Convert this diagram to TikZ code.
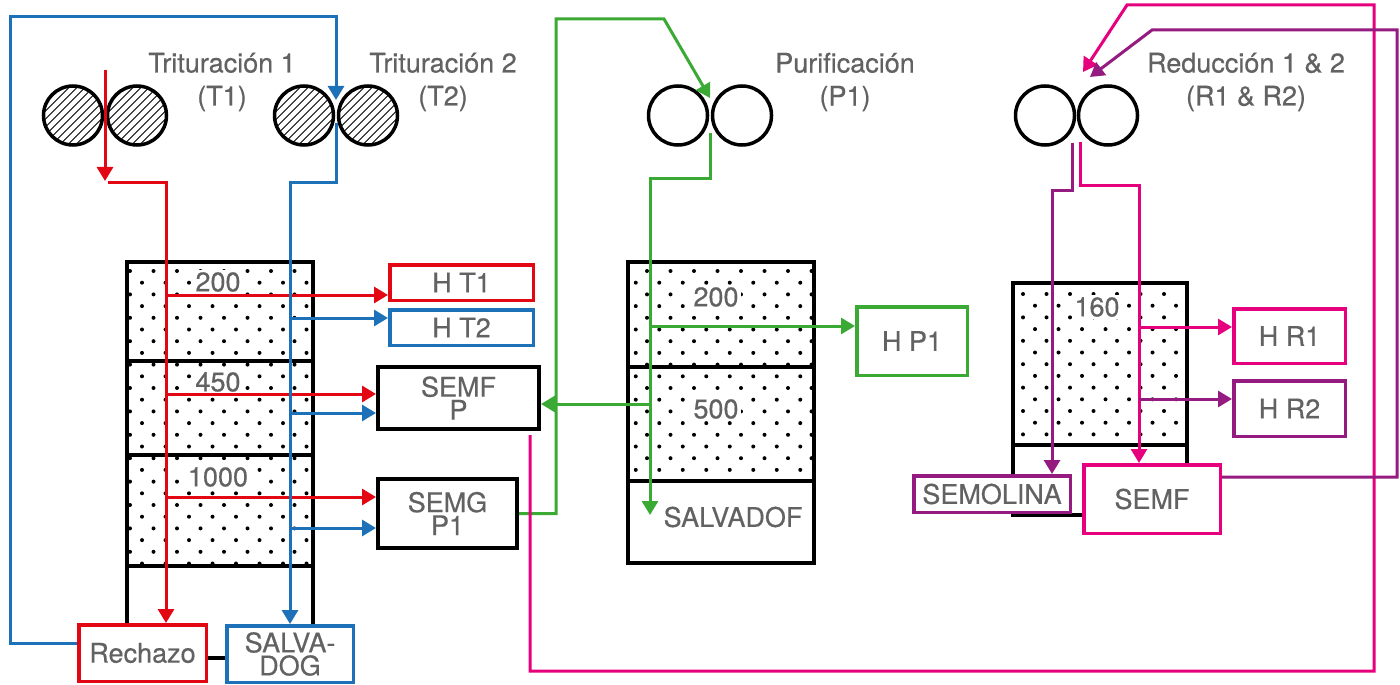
\documentclass[tikz,border=0pt]{standalone}
\usepackage{fontspec}
\setmainfont{TeX Gyre Heros}[FakeBold=0.5]
\usetikzlibrary{arrows.meta}
\definecolor{cred}{HTML}{E30613}
\definecolor{cblue}{HTML}{1D71B8}
\definecolor{cgreen}{HTML}{3AAA35}
\definecolor{cpink}{HTML}{E6007E}
\definecolor{cpurple}{HTML}{951B81}
\definecolor{ctext}{HTML}{626262}
\newcommand\mydots[7]{%
  \begin{scope}
  \clip (#1,#2) rectangle (#3,#4);
  \foreach \j in {0,...,30}{%
    \pgfmathsetmacro\yy{#7+11.7*\j}%
    \pgfmathsetmacro\xs{ifthenelse(mod(\j,2)==0,#5,#6)}%
    \foreach \k in {-1,...,9}{\fill[black] (\xs+23.5*\k,\yy) circle[radius=2];}}
  \end{scope}}
\begin{document}
\begin{tikzpicture}[x=0.5pt,y=-0.5pt,
  font=\fontsize{13.5}{16}\selectfont,
  flow/.style={line width=1.5pt,-{Triangle[length=7pt,width=8pt]}},
  box/.style={draw,fill=white,line width=1.75pt,inner sep=0pt,text=ctext,align=center},
  blackbox/.style={box,draw=black,line width=2pt},
  title/.style={text=ctext,align=center,inner sep=0pt,font=\fontsize{13.5}{16.5}\selectfont},
  lab/.style={text=ctext,fill=white,inner sep=1pt},
  roller/.style={circle,draw,line width=1.75pt,minimum size=29.5pt,inner sep=0pt,fill=white},
  hatched/.style={path picture={\foreach \k in {-10,...,10}
     \draw[line width=0.5pt] ([shift={(\k*4pt-20pt,-20pt)}]path picture bounding box.center) -- ++(40pt,40pt);}},
  sieve/.style={line width=2pt},
  tight/.style={font=\fontsize{13.5}{11.5}\selectfont}
]
\fill[white] (0,0) rectangle (1400,684);
\useasboundingbox (0,0) rectangle (1400,684);

% ---- sieves
\mydots{127}{262}{313}{566}{130}{142}{271}
\draw[sieve] (127,262) rectangle (313,658);
\draw[sieve] (127,361) -- (313,361);
\draw[sieve] (127,455) -- (313,455);
\draw[sieve] (127,566) -- (313,566);
\node[lab] (s200) at (218,282) {200};
\node[lab] (s450) at (218,382) {450};
\node[lab] (s1000) at (218,477) {1000};

\mydots{628}{262}{814}{481}{623.5}{635.75}{271}
\draw[sieve] (628,262) rectangle (814,563);
\draw[sieve] (628,367) -- (814,367);
\draw[sieve] (628,481) -- (814,481);
\node[lab] (m200) at (716,297) {200};
\node[lab] (m500) at (716,409) {500};
\node[text=ctext,inner sep=0pt] (salvadof) at (733,517) {SALVADOF};

\mydots{1013}{283}{1187}{445}{1023}{1035}{294}
\draw[sieve] (1013,283) rectangle (1187,515);
\draw[sieve] (1013,445) -- (1187,445);
\node[lab] (r160) at (1097,307) {160};

% ---- rollers
\node[roller,hatched] (t1a) at (73,115.5) {};
\node[roller,hatched] (t1b) at (137,115.5) {};
\node[roller,hatched] (t2a) at (304,115.5) {};
\node[roller,hatched] (t2b) at (368,115.5) {};
\node[roller] (p1a) at (678,115.5) {};
\node[roller] (p1b) at (742,115.5) {};
\node[roller] (ra) at (1045,115.5) {};
\node[roller] (rb) at (1108,115.5) {};

% ---- titles
\node[title] (tt1) at (222,82) {Trituración 1\\(T1)};
\node[title] (tt2) at (443,82) {Trituración 2\\(T2)};
\node[title] (tp1) at (845,82) {Purificación\\(P1)};
\node[title] (tr) at (1246,82) {Reducción 1 \& 2\\(R1 \& R2)};

% ---- boxes
\node[box,draw=cred,minimum width=71.75pt,minimum height=17.75pt] (ht1) at (461.5,282.5) {H T1};
\node[box,draw=cblue,minimum width=71.75pt,minimum height=17.75pt] (ht2) at (461.5,327.5) {H T2};
\node[blackbox,tight,minimum width=80.5pt,minimum height=31pt] (semfp) at (458.5,398) {SEMF\\P};
\node[blackbox,tight,minimum width=69.5pt,minimum height=34.5pt] (semgp1) at (447.5,513.5) {SEMG\\P1};
\node[box,draw=cred,minimum width=63.75pt,minimum height=28.25pt] (rech) at (142.5,653) {Rechazo};
\node[box,draw=cblue,tight,minimum width=63.25pt,minimum height=28.25pt] (salva) at (290,654) {SALVA-\\DOG};
\node[box,draw=cgreen,minimum width=55.25pt,minimum height=34.25pt] (hp1) at (912,341) {H P1};
\node[box,draw=cpink,minimum width=55.75pt,minimum height=27.25pt] (hr1) at (1289.5,336) {H R1};
\node[box,draw=cpurple,minimum width=55.75pt,minimum height=27.75pt] (hr2) at (1289.5,408.5) {H R2};
\node[box,draw=cpurple,minimum width=78.25pt,minimum height=18.25pt] (semol) at (992,494) {SEMOLINA};
\node[box,draw=cpink,minimum width=68.25pt,minimum height=34.25pt] (semf) at (1152,499) {SEMF};

% ---- coordinates
\coordinate (t1in) at (105,70);
\coordinate (t1tip) at (105,181);
\coordinate (t1o) at (108,183);
\coordinate (rt) at (166,183);
\coordinate (t2in) at (336,100);
\coordinate (t2o) at (336,123);
\coordinate (bt) at (290,183);
\coordinate (p1in) at (710,98);
\coordinate (p1o) at (710,133);
\coordinate (gt) at (650,179);
\coordinate (gend) at (650,515);
\coordinate (rin1) at (1083,72);
\coordinate (rin2) at (1090,77);
\coordinate (rpo) at (1072,143);
\coordinate (rko) at (1080,142);
\coordinate (pt) at (1052,191);
\coordinate (kt) at (1139,186);
\path ([yshift=-6.25pt]ht1.west) coordinate (a1)
      ([yshift=4.75pt]ht2.west) coordinate (b1)
      ([yshift=2pt]semfp.west) coordinate (a2)
      ([yshift=-7.5pt]semfp.west) coordinate (b2)
      ([yshift=8.25pt]semgp1.west) coordinate (a3)
      ([yshift=-7.25pt]semgp1.west) coordinate (b3)
      ([yshift=7.5pt]hp1.west) coordinate (g1)
      ([yshift=-3pt]semfp.east) coordinate (g2)
      ([yshift=4.5pt]hr1.west) coordinate (k1)
      ([yshift=4.75pt]hr2.west) coordinate (k2);

% ---- red (T1)
\draw[flow,cred] (t1in) -- (t1tip);
\draw[flow,cred] (t1o) -| (rt |- rech.north);
\draw[flow,cred] (a1 -| rt) -- (a1);
\draw[flow,cred] (a2 -| rt) -- (a2);
\draw[flow,cred] (a3 -| rt) -- (a3);

% ---- blue (T2)
\draw[flow,cblue] ([yshift=5pt]rech.west) -| (10,17) -| (t2in);
\draw[flow,cblue] (t2o) |- (bt) -- (bt |- salva.north);
\draw[flow,cblue] (b1 -| bt) -- (b1);
\draw[flow,cblue] (b2 -| bt) -- (b2);
\draw[flow,cblue] (b3 -| bt) -- (b3);

% ---- green (P1)
\draw[flow,cgreen] (semgp1.east) -| (556,19) -- (664,19) -- (p1in);
\draw[flow,cgreen] (p1o) |- (gt) -- (gend);
\draw[flow,cgreen] (g1 -| gt) -- (g1);
\draw[flow,cgreen] (g2 -| gt) -- (g2);

% ---- pink / purple (R1, R2)
\draw[flow,cpink] ([xshift=35.75pt,yshift=-2pt]semfp.south) |- (1374,671) |- (1127,5) -- (rin1);
\draw[flow,cpurple] ([yshift=11pt]semf.east) -| (1397,30) -- (1152,30) -- (rin2);
\draw[flow,cpink] (rko) |- (kt) -- (kt |- semf.north);
\draw[flow,cpurple] (rpo) |- (pt) -- (pt |- semol.north);
\draw[flow,cpink] (k1 -| kt) -- (k1);
\draw[flow,cpurple] (k2 -| kt) -- (k2);
\end{tikzpicture}
\end{document}
